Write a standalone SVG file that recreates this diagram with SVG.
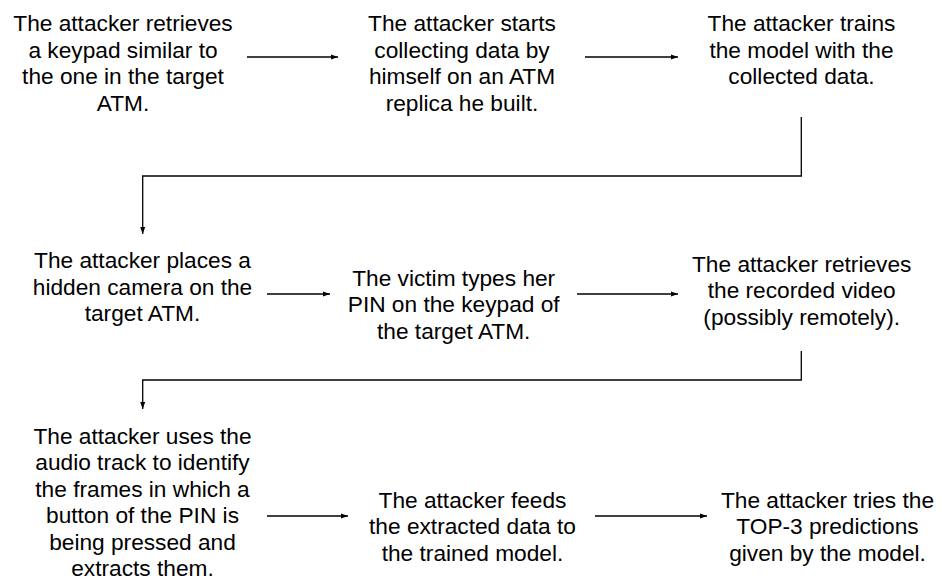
<svg xmlns="http://www.w3.org/2000/svg" width="942" height="583" viewBox="0 0 942 583">
  <style>
    .lbl { font-family: "Liberation Sans", Arial, sans-serif; font-size: 22.7px; fill: #000; text-anchor: middle; }
    .edge { fill: none; stroke: #000; stroke-width: 1.3; marker-end: url(#arrow); }
  </style>
  <defs>
    <marker id="arrow" markerUnits="userSpaceOnUse" markerWidth="8" markerHeight="8" refX="7" refY="4" orient="auto">
      <path d="M0,1.5 L7,4 L0,6.5 Z" fill="#000"/>
    </marker>
  </defs>
  <rect width="942" height="583" fill="#fff"/>

  <g id="connectors">
    <line class="edge" x1="247" y1="57" x2="338" y2="57"/>
    <line class="edge" x1="585" y1="57" x2="678" y2="57"/>
    <path class="edge" d="M801.3,117 V176 H142.7 V234"/>
    <line class="edge" x1="267" y1="294" x2="330" y2="294"/>
    <line class="edge" x1="577" y1="294" x2="678" y2="294"/>
    <path class="edge" d="M801.3,351 V380 H142.7 V409"/>
    <line class="edge" x1="267" y1="516" x2="348" y2="516"/>
    <line class="edge" x1="595" y1="516" x2="707" y2="516"/>
  </g>

  <g id="node-retrieve-keypad">
    <text class="lbl" x="123" y="31">The attacker retrieves</text>
    <text class="lbl" x="123" y="57.5">a keypad similar to</text>
    <text class="lbl" x="123" y="84">the one in the target</text>
    <text class="lbl" x="123" y="110.5">ATM.</text>
  </g>
  <g id="node-collect-data">
    <text class="lbl" x="462" y="31">The attacker starts</text>
    <text class="lbl" x="462" y="57.5">collecting data by</text>
    <text class="lbl" x="462" y="84">himself on an ATM</text>
    <text class="lbl" x="462" y="110.5">replica he built.</text>
  </g>
  <g id="node-train-model">
    <text class="lbl" x="801.5" y="31">The attacker trains</text>
    <text class="lbl" x="801.5" y="57.5">the model with the</text>
    <text class="lbl" x="801.5" y="84">collected data.</text>
  </g>
  <g id="node-place-camera">
    <text class="lbl" x="142.5" y="268">The attacker places a</text>
    <text class="lbl" x="142.5" y="294.5">hidden camera on the</text>
    <text class="lbl" x="142.5" y="321">target ATM.</text>
  </g>
  <g id="node-victim-types">
    <text class="lbl" x="453.7" y="285.5">The victim types her</text>
    <text class="lbl" x="453.7" y="312">PIN on the keypad of</text>
    <text class="lbl" x="453.7" y="338.5">the target ATM.</text>
  </g>
  <g id="node-retrieve-video">
    <text class="lbl" x="801.7" y="271.5">The attacker retrieves</text>
    <text class="lbl" x="801.7" y="298">the recorded video</text>
    <text class="lbl" x="801.7" y="324.5">(possibly remotely).</text>
  </g>
  <g id="node-extract-frames">
    <text class="lbl" x="142.5" y="443.5">The attacker uses the</text>
    <text class="lbl" x="142.5" y="470">audio track to identify</text>
    <text class="lbl" x="142.5" y="496.5">the frames in which a</text>
    <text class="lbl" x="142.5" y="523">button of the PIN is</text>
    <text class="lbl" x="142.5" y="549.5">being pressed and</text>
    <text class="lbl" x="142.5" y="576">extracts them.</text>
  </g>
  <g id="node-feed-model">
    <text class="lbl" x="472.5" y="507.5">The attacker feeds</text>
    <text class="lbl" x="472.5" y="534">the extracted data to</text>
    <text class="lbl" x="472.5" y="560.5">the trained model.</text>
  </g>
  <g id="node-try-top3">
    <text class="lbl" x="827.5" y="507.5">The attacker tries the</text>
    <text class="lbl" x="827.5" y="534">TOP-3 predictions</text>
    <text class="lbl" x="827.5" y="560.5">given by the model.</text>
  </g>
</svg>
